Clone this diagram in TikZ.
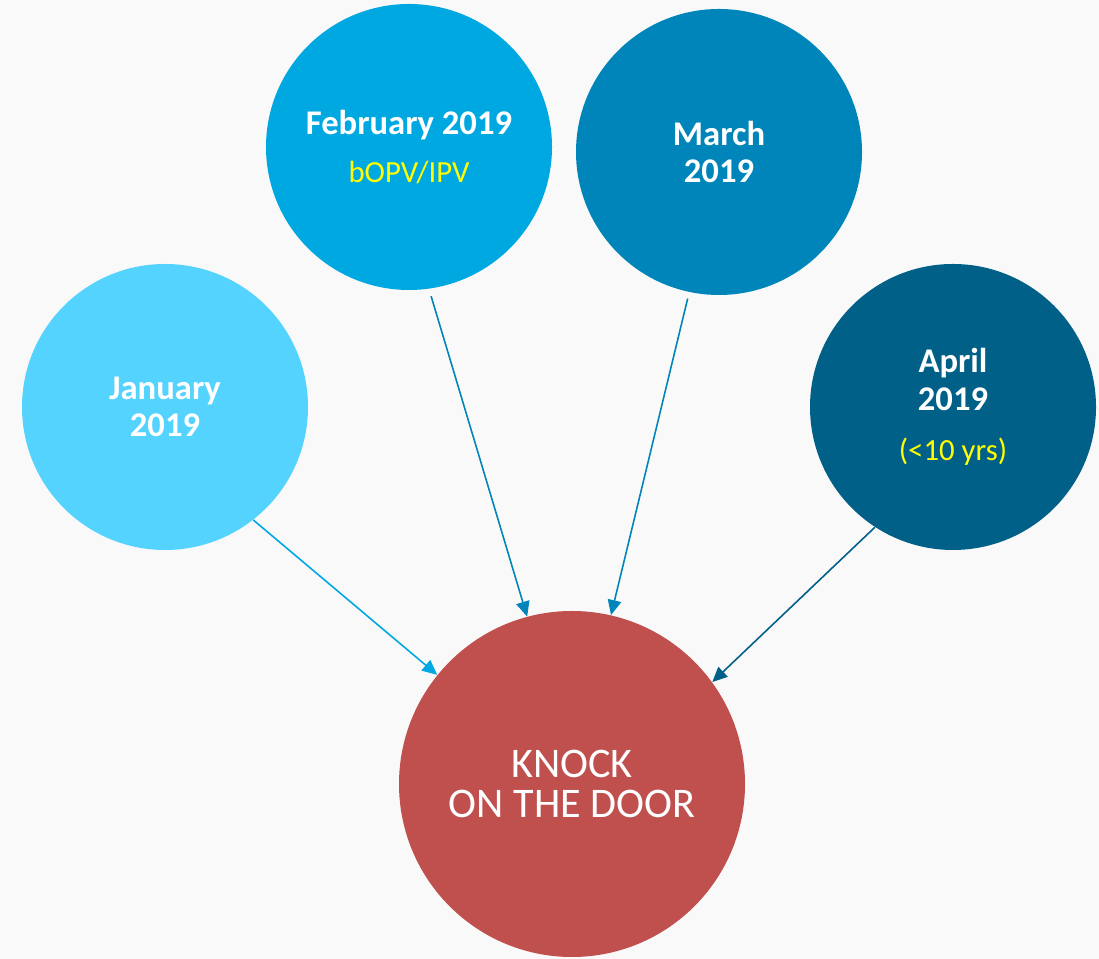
\documentclass[tikz,border=0pt]{standalone}
\usepackage{fontspec}
\setmainfont{Carlito}
\usetikzlibrary{arrows.meta}
\definecolor{bgcol}{HTML}{F9F9F9}
\definecolor{jancol}{HTML}{55D3FF}
\definecolor{febcol}{HTML}{00A8E1}
\definecolor{marcol}{HTML}{0085BA}
\definecolor{aprcol}{HTML}{006088}
\definecolor{knockcol}{HTML}{C0504D}
\definecolor{yelcol}{HTML}{FFFF00}
\newcommand{\yel}[1]{{\color{yelcol}\mdseries\fontsize{17.5}{20}\selectfont #1}}

\begin{document}
\begin{tikzpicture}
\useasboundingbox[fill=bgcol] (0,0) rectangle (21.98,19.18);
\tikzset{month/.style={circle,minimum size=5.72cm,inner sep=0pt,align=center,text=white,font=\fontsize{19.7}{21.5}\selectfont\bfseries},
  link/.style={line width=0.9pt,-{Triangle[length=0.3cm,width=0.27cm]}}}
\node (k)[circle,fill=knockcol,minimum size=6.92cm,inner sep=0pt,align=center,text=white,font=\fontsize{24}{23}\selectfont] at (11.44,3.5) {KNOCK\\ON THE DOOR};
\node (jan)[month,fill=jancol] at (3.30,11.04) {January\\2019};
\node (feb)[month,fill=febcol] at (8.18,16.24) {February 2019\\[6pt]\yel{bOPV/IPV}};
\node (mar)[month,fill=marcol] at (14.38,16.14) {March\\2019};
\node (apr)[month,fill=aprcol] at (19.06,11.04) {April\\2019\\[7pt]\yel{(<10 yrs)}};
% start angle / end angle on the knock circle / colour / gap
\foreach \m/\a/\b/\c/\g in {jan/-52/141/febcol/0,feb/-82/105/marcol/0.15,mar/-102/77/marcol/0.13,apr/-123/36/aprcol/0}
\draw[link,\c,shorten <=\g cm] (\m.\a) -- (k.\b);
\end{tikzpicture}
\end{document}
